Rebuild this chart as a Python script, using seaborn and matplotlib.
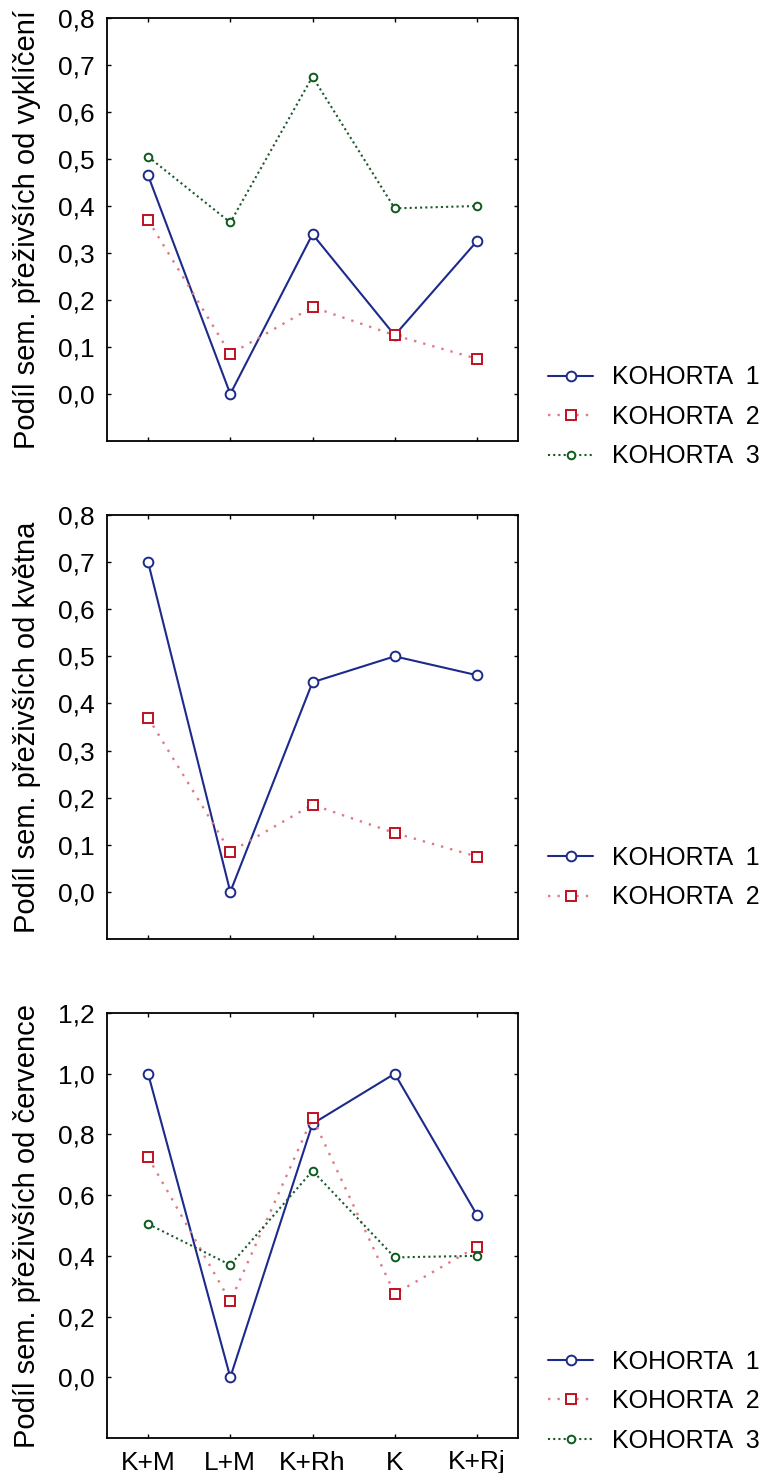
import matplotlib
matplotlib.use("Agg")
import matplotlib.pyplot as plt
import matplotlib.ticker as mticker
import seaborn as sns
import pandas as pd

# Treatments on the x axis
treatments = ["K+M", "L+M", "K+Rh", "K", "K+Rj"]

# Share of surviving seedlings since germination
vykliceni_k1 = [0.465, 0.0, 0.34, 0.125, 0.325]
vykliceni_k2 = [0.37, 0.085, 0.185, 0.125, 0.075]
vykliceni_k3 = [0.505, 0.365, 0.675, 0.395, 0.40]

# Share of surviving seedlings since May
kveten_k1 = [0.70, 0.0, 0.445, 0.50, 0.46]
kveten_k2 = [0.37, 0.085, 0.185, 0.125, 0.075]

# Share of surviving seedlings since July
cervenec_k1 = [1.0, 0.0, 0.835, 1.0, 0.535]
cervenec_k2 = [0.725, 0.25, 0.855, 0.275, 0.43]
cervenec_k3 = [0.505, 0.37, 0.68, 0.395, 0.40]

cohort_names = ["KOHORTA  1", "KOHORTA  2", "KOHORTA  3"]

ylabels = [
    "Podíl sem. přeživších od vyklíčení",
    "Podíl sem. přeživších od května",
    "Podíl sem. přeživších od července",
]

sns.set_theme(style="white")
plt.rcParams["font.family"] = ["Liberation Sans", "DejaVu Sans"]
plt.rcParams["text.color"] = "black"
plt.rcParams["axes.labelcolor"] = "black"
plt.rcParams["xtick.color"] = "black"
plt.rcParams["ytick.color"] = "black"

styles = {
    "KOHORTA  1": dict(color="#1c2a8c", linestyle="-", linewidth=1.5, marker="o",
                       markersize=7, markerfacecolor="white", markeredgecolor="#1c2a8c",
                       markeredgewidth=1.4),
    "KOHORTA  2": dict(color="#e07a85", linestyle=(0, (1, 3)), linewidth=1.7, marker="s",
                       markersize=7, markerfacecolor="white", markeredgecolor="#c01020",
                       markeredgewidth=1.4),
    "KOHORTA  3": dict(color="#1a5a2a", linestyle=(0, (1, 1.5)), linewidth=1.5, marker="o",
                       markersize=5.5, markerfacecolor="white", markeredgecolor="#0c5a1c",
                       markeredgewidth=1.4),
}

panels = [
    dict(series=[vykliceni_k1, vykliceni_k2, vykliceni_k3], ylim=(-0.1, 0.8),
         ticks=[0.0, 0.1, 0.2, 0.3, 0.4, 0.5, 0.6, 0.7, 0.8],
         rect=(18, 441), legend_y=0.057),
    dict(series=[kveten_k1, kveten_k2], ylim=(-0.1, 0.8),
         ticks=[0.0, 0.1, 0.2, 0.3, 0.4, 0.5, 0.6, 0.7, 0.8],
         rect=(515, 939), legend_y=0.145),
    dict(series=[cervenec_k1, cervenec_k2, cervenec_k3], ylim=(-0.2, 1.2),
         ticks=[0.0, 0.2, 0.4, 0.6, 0.8, 1.0, 1.2],
         rect=(1013, 1438), legend_y=0.087),
]

W, H = 766, 1473
fig = plt.figure(figsize=(W / 100, H / 100), dpi=100)
fig.patch.set_facecolor("white")

left_px, right_px = 107, 518
tick_fs = 19
legend_fs = 18
label_fs = 21

for i, p in enumerate(panels):
    top_px, bot_px = p["rect"]
    ax = fig.add_axes([left_px / W, 1 - bot_px / H,
                       (right_px - left_px) / W, (bot_px - top_px) / H])
    ax.set_facecolor("white")
    for name, vals in zip(cohort_names, p["series"]):
        df = pd.DataFrame({"x": list(range(len(treatments))), "y": vals})
        sns.lineplot(data=df, x="x", y="y", ax=ax, label=name, **styles[name])
    ax.set_xlim(-0.5, 4.5)
    ax.set_ylim(*p["ylim"])
    ax.set_yticks(p["ticks"])
    ax.yaxis.set_major_formatter(
        mticker.FuncFormatter(lambda v, pos: f"{v:.1f}".replace(".", ",")))
    ax.set_xticks(range(len(treatments)))
    if i == 2:
        ax.set_xticklabels(treatments)
    else:
        ax.set_xticklabels([])
    ax.set_xlabel("")
    ax.set_ylabel(ylabels[i], fontsize=label_fs, labelpad=12, color="black")
    ax.tick_params(axis="both", which="both", direction="in", length=3, width=1,
                   top=True, right=True, left=True, bottom=True, labelsize=tick_fs,
                   colors="black", pad=9)
    for s in ax.spines.values():
        s.set_visible(True)
        s.set_color("black")
        s.set_linewidth(1.3)
    ax.legend(loc="center left", bbox_to_anchor=(1.073, p["legend_y"]),
              frameon=False, fontsize=legend_fs, handlelength=1.8, handletextpad=0.76,
              labelspacing=0.62, borderaxespad=0, borderpad=0, labelcolor="black")

fig.savefig("out.png", dpi=100, facecolor="white")
